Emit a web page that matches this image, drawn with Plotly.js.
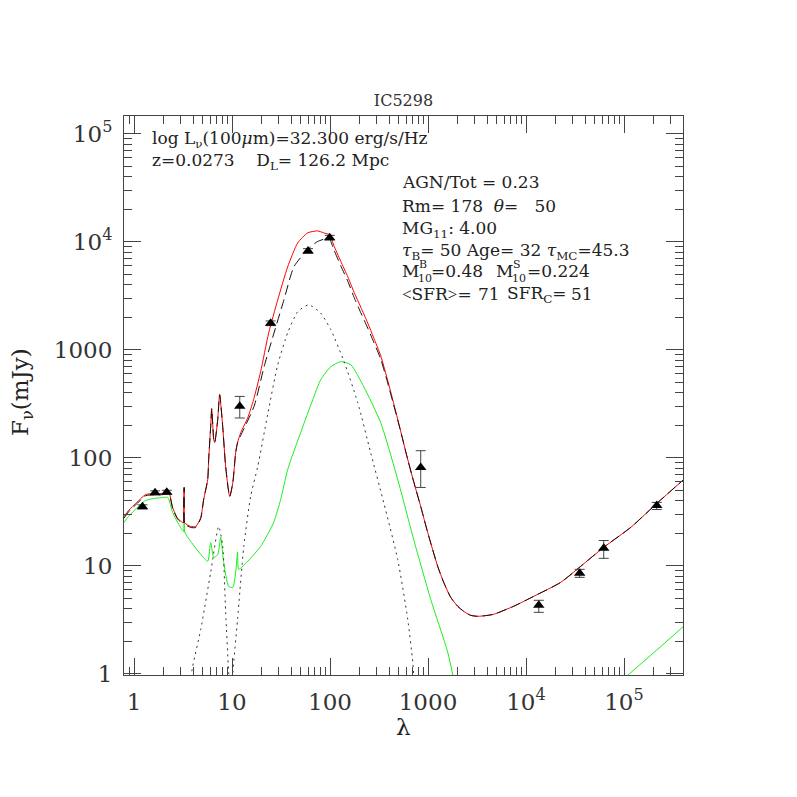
<!DOCTYPE html>
<html>
<head>
<meta charset="utf-8">
<script src="https://cdn.plot.ly/plotly-3.0.1.min.js"></script>
<style>html,body{margin:0;padding:0;background:#fff;}#chart{width:797px;height:797px;}</style>
</head>
<body>
<div id="chart"></div>
<script>
// ---- data ----
const lamTotal = [0.79,0.88,1.07,1.32,1.96,2.26,2.48,2.79,3.14,3.21,3.25,3.29,3.79,4.27,4.80,5.14,5.65,5.78,6.06,6.21,6.51,6.66,7.15,7.48,8.04,8.62,9.48,10.2,10.9,11.4,12.3,14.5,16.6,19.6,23.7,29.3,37.0,46.8,59.2,74.8,86.2,100,109,128.5,152,176,206,243,279,329,379,437,526,606,714,843,993,1256,1446,1706,2010,2310,2730,3210,3880,4680,7480,11970,22600,36100,62100,117000,221000,406000];
const fTotal   = [28.5,32.4,38.5,45.6,46.6,47.6,34.6,27.4,25.1,25.2,53,25,23.1,23.1,27.9,41.0,62.8,96,194,284,147,138,225,383,194,82.7,43.7,58.9,111,138,171,235,344,625,1432,2890,5840,9720,12050,12570,12050,11500,9300,6600,4720,3400,2480,1760,1290,880,560,344,176,105,60.1,35.3,20.3,9.86,7.01,5.09,4.21,3.78,3.47,3.40,3.45,3.55,4.21,5.20,7.01,9.86,14.8,22.6,38.4,62.7];

const lamStarburst = [0.79,0.88,1.07,1.32,1.96,2.26,2.48,2.79,3.14,3.21,3.25,3.29,3.79,4.27,4.80,5.14,5.65,5.78,6.06,6.21,6.51,6.66,7.15,7.48,8.04,8.62,9.48,10.2,10.9,11.4,12.3,16.8,21.3,26.8,33.9,42.9,58.8,74.3,97.7,109,128.5,152,176,206,243,279,329,379,437,526,606,714,843,993,1256,1446,1706,2010,2310,2730,3210,3880,4680,7480,11970,22600,36100,62100,117000,221000,406000];
const fStarburst   = [27.5,31.5,37.5,44.5,45.5,46.5,34,27,24.6,24.7,53,24.5,22.6,22.6,27.5,41.0,62.8,96,194,284,147,138,225,383,194,82.7,43.7,58.9,111,138,161,299,700,1423,2895,5870,8380,10000,10700,8500,6000,4300,3050,2200,1580,1180,820,530,330,176,105,60.1,35.3,20.3,9.86,7.01,5.09,4.21,3.78,3.47,3.40,3.45,3.55,4.21,5.20,7.01,9.86,14.8,22.6,38.4,62.7];

const lamAGN = [3.62,3.97,4.80,6.06,7.31,8.04,8.62,9.25,9.70,10.2,11.4,13.2,15.5,18.3,23.1,29.3,37.0,46.8,60.4,80.0,102,138,192,260,353,491,621,699,731];
const fAGN   = [0.72,1.17,2.58,8.67,23.1,15.1,3.70,1.03,0.58,1.03,3.19,15.1,43.7,82.7,250,725,1432,2240,2600,2190,1528,790,323,111,38.5,11.4,3.19,1.28,0.72];

const lamHost = [0.79,0.88,1.32,1.96,2.21,2.48,2.86,3.21,3.25,3.29,3.79,4.80,5.65,6.06,6.51,7.15,7.67,8.23,9.25,10.2,10.9,11.4,11.7,14.5,19.6,26.6,31.4,37.0,50.2,66.7,80.4,102,128.5,163,221,329,491,714,1066,1589,1919,3000,75700,114000,215000,406000];
const fHost   = [25.1,28.6,40.2,42.8,42.8,31.1,24.1,20.7,26.8,20.5,16.8,12.7,11.0,16.4,11.9,12.7,18.3,10.7,6.44,6.30,8.67,13.3,9.25,11.0,15.1,25.1,41.0,77.6,171,344,527,695,773,725,454,211,62.8,17.5,4.88,1.58,0.72,null,0.72,1.0,1.65,2.75];

const lamObs  = [1.22,1.64,2.16,12,24.8,59.7,99.3,843,13500,35300,62100,216000];
const fObs    = [35.1,47.3,47.9,299,1754,8200,10890,81,4.30,8.49,14.5,36.1];
const errUp   = [1.5,2,2,70,90,410,540,35,0.48,0.76,2.6,2.4];
const errDown = [1.5,2,2,66,85,390,520,28,0.60,0.69,2.8,3.0];

const tickVals = [1,10,100,1000,1e4,1e5];
const xTickText = ['1','10','100','1000','10<sup>4</sup>','10<sup>5</sup>'];
const yTickText = ['1','10','100','1000','10<sup>4</sup>','10<sup>5</sup>'];

// ---- build ----
const minorX = [0.8,0.9];
const minorY = [];
for (let k = 0; k <= 5; k++) for (let d = 2; d <= 9; d++) { minorX.push(d*Math.pow(10,k)); minorY.push(d*Math.pow(10,k)); }

const FONT = 'DejaVu Serif';
const TXT = '#222';
const SM = 0.6;

const traces = [
  {x: lamHost, y: fHost, mode:'lines', line:{color:'#19f019', width:1, shape:'spline', smoothing:SM}, hoverinfo:'skip', connectgaps:false},
  {x: lamAGN, y: fAGN, mode:'lines', line:{color:'#333', width:1, dash:'2px,4px', shape:'spline', smoothing:SM}, hoverinfo:'skip'},
  {x: lamTotal, y: fTotal, mode:'lines', line:{color:'#ff0000', width:1, shape:'spline', smoothing:SM}, hoverinfo:'skip'},
  {x: lamStarburst, y: fStarburst, mode:'lines', line:{color:'#111', width:1, dash:'10px,5px', shape:'spline', smoothing:SM}, hoverinfo:'skip'},
  {x: lamObs, y: fObs, mode:'markers', marker:{symbol:'triangle-up', size:10, color:'#000'},
   error_y:{type:'data', symmetric:false, array:errUp, arrayminus:errDown, color:'#444', thickness:1, width:5}}
];

const L = 124, R = 683, T = 116, B = 675, W = 797, H = 797;
const px = x => (x - L) / (R - L);
const py = y => (B - y) / (B - T);
function ann(text, x, y, size, opts) {
  return Object.assign({text: text, xref:'paper', yref:'paper', x: px(x), y: py(y), xanchor:'left', yanchor:'middle',
    showarrow:false, font:{family:FONT, size:size, color:TXT}}, opts || {});
}
const nb = '\u00a0';
const narrow = s => '<span style="font-family:Liberation Serif">' + s + '</span>';
const annotations = [
  ann('log L<sub>ν</sub>(100<i>μ</i>m)=32.300 erg/s/Hz', 150, 140, 17),
  ann('z=0.0273'+nb+nb+nb+nb+'D<sub>L</sub>=' + nb + '126.2 Mpc', 150, 161, 17),
  ann('AGN/Tot = 0.23', 400, 182, 17),
  ann('Rm= 178' + nb+nb + '<i>θ</i>=' + nb+nb+nb + '50', 400, 206, 17),
  ann('MG<sub>11</sub>: 4.00', 400, 229, 17),
  ann('<i>τ</i><sub>B</sub>= 50 Age= 32 <i>τ</i><sub>MC</sub>=45.3', 400, 251, 17),
  ann('M', 400, 271, 17),
  ann('B', 417, 264, 11),
  ann('10', 416, 278, 11),
  ann('=0.48', 429, 271, 17),
  ann('M', 494, 271, 17),
  ann('S', 511, 264, 11),
  ann('10', 510, 278, 11),
  ann('=0.224', 525, 271, 17),
  ann(narrow('&lt;') + 'SFR' + narrow('&gt;') + '=', 400, 294, 17),
  ann('71', 476, 294, 17),
  ann('SFR<sub>C</sub>=', 505, 294, 17),
  ann('51', 569, 294, 17),
  // axis titles
  {text:'λ', xref:'paper', yref:'paper', x: px(403), y: py(727), xanchor:'center', yanchor:'middle', showarrow:false,
   font:{family:FONT, size:23, color:TXT}},
  {text:'F<sub>ν</sub>(mJy)', xref:'paper', yref:'paper', x: px(22), y: py(392), xanchor:'center', yanchor:'middle', showarrow:false,
   textangle:-90, font:{family:FONT, size:23, color:TXT}}
];

const axisCommon = {
  type:'log', showgrid:false, zeroline:false, showline:true, linecolor:'#444', linewidth:1, mirror:'allticks',
  ticks:'inside', ticklen:17, tickwidth:1, tickcolor:'#444', tickmode:'array', tickvals: tickVals,
  tickfont:{family:FONT, size:23, color:'#333'}, ticklabelstandoff: 6,
};

const layout = {
  width: W, height: H,
  margin:{l:L, r:W-R, t:T, b:H-B, pad:0},
  paper_bgcolor:'#fff', plot_bgcolor:'#fff',
  showlegend:false,
  title:{text:'IC5298', font:{family:FONT, size:16, color:'#333'}, x:0.5, xref:'paper', xanchor:'center',
         y: 1 - 100/H, yref:'container', yanchor:'middle'},
  xaxis: Object.assign({}, axisCommon, {range:[-0.102, 5.602], ticktext: xTickText,
    minor:{tickmode:'array', tickvals:minorX, ticks:'inside', ticklen:8, tickwidth:1, tickcolor:'#444', showgrid:false}}),
  yaxis: Object.assign({}, axisCommon, {range:[-0.012, 5.163], ticktext: yTickText,
    minor:{tickmode:'array', tickvals:minorY, ticks:'inside', ticklen:8, tickwidth:1, tickcolor:'#444', showgrid:false}}),
  annotations: annotations
};

Plotly.newPlot('chart', traces, layout, {displayModeBar:false, staticPlot:true});
</script>
</body>
</html>
